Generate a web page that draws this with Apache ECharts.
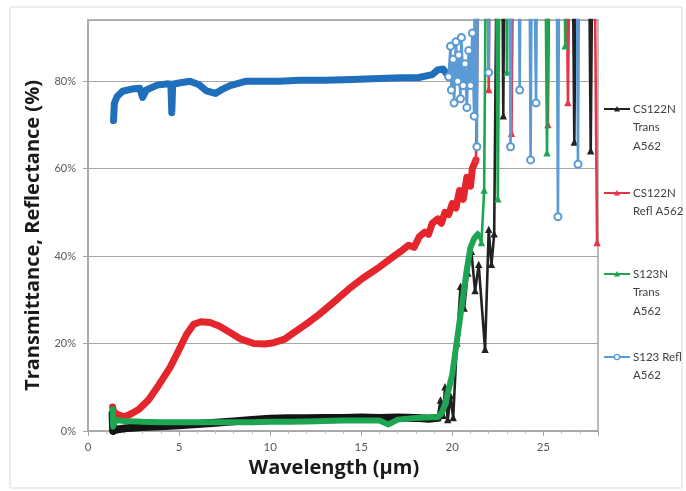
<!DOCTYPE html>
<html>
<head>
<meta charset="utf-8">
<script src="https://cdn.jsdelivr.net/npm/echarts@6/dist/echarts.min.js"></script>
<style>
  html, body { margin: 0; padding: 0; background: #fff; }
  #chart { width: 686px; height: 491px; }
</style>
</head>
<body>
<div id="chart"></div>
<script>
// Wavelength (µm) / percent pairs for each measured sample.
// Values above the axis top run off the plot and are clipped.
const cs122nTrans = [
  [1.35, 4], [1.38, 0], [1.5, 0.3], [2.0, 0.6], [3.0, 0.9], [4.0, 1.1], [5.0, 1.3],
  [6.0, 1.6], [7.0, 1.9], [8.0, 2.2], [9.0, 2.5], [10.0, 2.8], [11.0, 2.9], [12.0, 2.9],
  [13.0, 3.0], [14.0, 3.0], [15.0, 3.1], [16.0, 3.0], [17.0, 3.1], [18.0, 3.0], [18.7, 2.8],
  [19.2, 3.0], [19.35, 7], [19.5, 3.5], [19.6, 10], [19.75, 2.5], [19.9, 8], [20.05, 3],
  [20.25, 20], [20.45, 33], [20.65, 28], [20.85, 36], [21.05, 41], [21.25, 32], [21.45, 38],
  [21.8, 18.6], [22.0, 46], [22.15, 38], [22.3, 45], [22.5, 140], [22.7, 140], [22.8, 72],
  [22.9, 140], [26.55, 140], [26.7, 66], [26.85, 140], [27.45, 140], [27.6, 64], [27.75, 140]
];

const cs122nRefl = [
  [1.35, 5.5], [1.4, 4.5], [1.6, 3.8], [2.0, 3.2], [2.4, 4], [2.8, 5], [3.3, 7], [3.9, 10.6],
  [4.5, 14.5], [5.0, 18.6], [5.4, 22], [5.8, 24.4], [6.2, 25], [6.7, 24.8], [7.2, 24],
  [7.8, 22.5], [8.4, 21], [9.1, 20], [9.7, 19.9], [10.2, 20.2], [10.8, 21], [11.3, 22.5],
  [12.0, 24.5], [12.7, 26.7], [13.5, 29.5], [14.3, 32.4], [15.1, 35], [16.0, 37.5],
  [16.8, 40], [17.3, 41.5], [17.6, 42.5], [17.9, 42], [18.2, 44.5], [18.5, 45.5], [18.7, 45],
  [18.9, 47.5], [19.2, 48.5], [19.4, 47.5], [19.6, 50], [19.8, 49.5], [20.0, 52], [20.2, 51],
  [20.4, 55], [20.6, 53], [20.8, 58], [21.0, 56], [21.1, 60], [21.3, 62], [21.55, 140],
  [21.9, 140], [22.0, 78], [22.1, 140], [23.1, 140], [23.25, 68], [23.4, 140], [25.1, 140],
  [25.25, 70], [25.4, 140], [26.2, 140], [26.35, 75], [26.5, 140], [27.75, 140], [27.95, 43]
];

const s123nTrans = [
  [1.35, 5], [1.38, 1], [1.5, 2.5], [2.0, 2.3], [3.0, 2.1], [4.0, 2.0], [5.0, 2.0], [6.0, 2.0],
  [7.0, 2.0], [8.0, 2.0], [9.0, 2.0], [10.0, 2.1], [11.0, 2.1], [12.0, 2.2], [13.0, 2.3],
  [14.0, 2.4], [15.0, 2.4], [16.0, 2.4], [16.5, 1.5], [17.0, 2.6], [18.0, 3.0], [19.2, 3.2],
  [19.4, 4], [19.6, 6], [19.8, 9.5], [20.0, 13], [20.2, 19], [20.4, 25], [20.6, 31],
  [20.8, 37], [21.0, 42], [21.2, 44], [21.4, 45], [21.6, 43], [21.75, 55], [21.9, 140],
  [22.35, 140], [22.5, 53], [22.65, 140], [22.9, 140], [23.0, 82], [23.1, 140], [25.05, 140],
  [25.2, 63.5], [25.35, 140], [26.1, 140], [26.2, 88], [26.3, 140], [27.95, 140]
];

const s123Refl = [
  [1.4, 71], [1.45, 75], [1.6, 76.5], [1.9, 77.7], [2.4, 78.2], [2.85, 78.4], [3.0, 76.3],
  [3.2, 78], [3.8, 79.1], [4.4, 79.4], [4.55, 79.3], [4.6, 72.8], [4.65, 79.3], [5.0, 79.6],
  [5.6, 80], [6.1, 79.2], [6.5, 77.8], [7.0, 77.2], [7.4, 78.2], [7.8, 79], [8.7, 80],
  [10.5, 80], [11.6, 80.2], [13.0, 80.2], [14.5, 80.4], [16.0, 80.6], [17.2, 80.8],
  [18.1, 80.8], [18.9, 81.5], [19.2, 82.6], [19.5, 82.8], [19.8, 81], [19.9, 88], [19.95, 78],
  [20.05, 85], [20.1, 75], [20.2, 89], [20.3, 80], [20.35, 86], [20.45, 76], [20.5, 90],
  [20.6, 79], [20.7, 84], [20.8, 74], [20.9, 87], [21.0, 79], [21.1, 91], [21.2, 72],
  [21.25, 140], [21.35, 65], [21.45, 140], [21.9, 140], [22.0, 82], [22.1, 140], [23.1, 140],
  [23.2, 65], [23.3, 140], [23.6, 140], [23.7, 78], [23.8, 140], [24.2, 140], [24.3, 62],
  [24.4, 140], [24.5, 140], [24.6, 75], [24.7, 140], [25.7, 140], [25.8, 49], [25.9, 140],
  [26.8, 140], [26.9, 61], [27.0, 140]
];

const seriesNames = ['CS122N Trans A562', 'CS122N Refl A562', 'S123N Trans A562', 'S123 Refl A562'];
const legendLabels = ['CS122N\nTrans\nA562', 'CS122N\nRefl A562', 'S123N\nTrans\nA562', 'S123 Refl\nA562'];
const yTicks = [0, 20, 40, 60, 80];
const xTicks = [0, 5, 10, 15, 20, 25];

// Each sample is drawn as a thick band where the signal is smooth and as a
// thin marked line where it becomes noisy.
const styles = [
  { data: cs122nTrans, cut: 19.2, color: '#141414', thin: '#222222', band: 8, symbol: 'triangle',    size: 5 },
  { data: cs122nRefl,  cut: 21.3, color: '#e4252c', thin: '#e8344a', band: 7, symbol: 'triangle',    size: 5 },
  { data: s123nTrans,  cut: 21.4, color: '#1ea552', thin: '#1ea552', band: 6, symbol: 'triangle',    size: 5 },
  { data: s123Refl,    cut: 19.8, color: '#1f6fbd', thin: '#5b9bd5', band: 7, symbol: 'emptyCircle', size: 7 }
];

const series = [];
styles.forEach((s, i) => {
  series.push({
    name: seriesNames[i], type: 'line', data: s.data.filter(p => p[0] <= s.cut),
    showSymbol: false, symbol: 'none', clip: true, z: 2 + i,
    lineStyle: { color: s.color, width: s.band, cap: 'round', join: 'round' },
    itemStyle: { color: s.color }, animation: false
  });
  series.push({
    name: seriesNames[i], type: 'line', data: s.data.filter(p => p[0] >= s.cut),
    symbol: s.symbol, symbolSize: s.size, showAllSymbol: true, clip: true, z: 2 + i,
    lineStyle: { color: s.thin, width: 2.6 },
    itemStyle: { color: s.thin, borderColor: s.thin, borderWidth: 1.5 }, animation: false
  });
});

// Legend drawn at the right of the plot, icon level with the first text line.
const legendY = [109, 193, 274, 357];
const legendGraphics = [];
styles.forEach((s, i) => {
  legendGraphics.push({
    type: 'line', shape: { x1: 604, y1: legendY[i], x2: 630, y2: legendY[i] },
    style: { stroke: s.thin, lineWidth: 2 }
  });
  legendGraphics.push(s.symbol === 'emptyCircle'
    ? { type: 'circle', shape: { cx: 617, cy: legendY[i], r: 2.6 }, style: { fill: '#fff', stroke: s.thin, lineWidth: 1.3 } }
    : { type: 'polygon', shape: { points: [[617, legendY[i] - 3], [620, legendY[i] + 2.5], [614, legendY[i] + 2.5]] }, style: { fill: s.thin } });
  legendGraphics.push({
    type: 'text', left: 633, top: legendY[i] - 9,
    style: { text: legendLabels[i], fill: '#404040', font: '11.5px Lato, "Open Sans", sans-serif', lineHeight: 18.5 }
  });
});

const titleFont = { fontFamily: '"Open Sans", Lato, sans-serif', fontWeight: 'bold', fontSize: 20, color: '#1a1a1a' };

const chart = echarts.init(document.getElementById('chart'), null, { renderer: 'canvas' });
chart.setOption({
  backgroundColor: '#ffffff',
  animation: false,
  grid: { left: 88, right: 88, top: 20, bottom: 60, show: true, borderColor: '#a6a6a6', borderWidth: 1.5 },
  xAxis: {
    type: 'value', min: xTicks[0], max: 28, interval: 5,
    name: 'Wavelength (µm)', nameLocation: 'middle', nameGap: 26,
    nameTextStyle: Object.assign({ padding: [0, 18, 0, 0] }, titleFont),
    axisLine: { show: true, onZero: false, lineStyle: { color: '#a6a6a6', width: 1.5 } },
    axisTick: { show: true, length: 5, lineStyle: { color: '#a6a6a6' } },
    minorTick: { show: true, splitNumber: 5, length: 3, lineStyle: { color: '#bfbfbf' } },
    axisLabel: { color: '#595959', fontSize: 11.5, fontFamily: 'Lato, sans-serif', margin: 10, showMaxLabel: false,
      formatter: v => (xTicks.includes(v) ? String(v) : '') },
    splitLine: { show: false }
  },
  yAxis: {
    type: 'value', min: yTicks[0], max: 94, interval: 20,
    name: 'Transmittance, Reflectance (%)', nameLocation: 'middle', nameGap: 44,
    nameTextStyle: Object.assign({ padding: [0, 20, 0, 0] }, titleFont),
    axisLine: { show: true, lineStyle: { color: '#a6a6a6', width: 1.5 } },
    axisTick: { show: true, length: 5, lineStyle: { color: '#a6a6a6' } },
    axisLabel: { color: '#595959', fontSize: 11, fontFamily: 'Lato, sans-serif', margin: 12, showMaxLabel: false,
      formatter: v => (yTicks.includes(v) ? v + '%' : '') },
    splitLine: { show: true, lineStyle: { color: '#a6a6a6', width: 1.2 } }
  },
  series: series,
  graphic: [
    { type: 'rect', shape: { x: 10, y: 7, width: 672, height: 481 }, style: { fill: 'none', stroke: '#dadada', lineWidth: 1 }, silent: true },
    ...legendGraphics
  ]
});
</script>
</body>
</html>
